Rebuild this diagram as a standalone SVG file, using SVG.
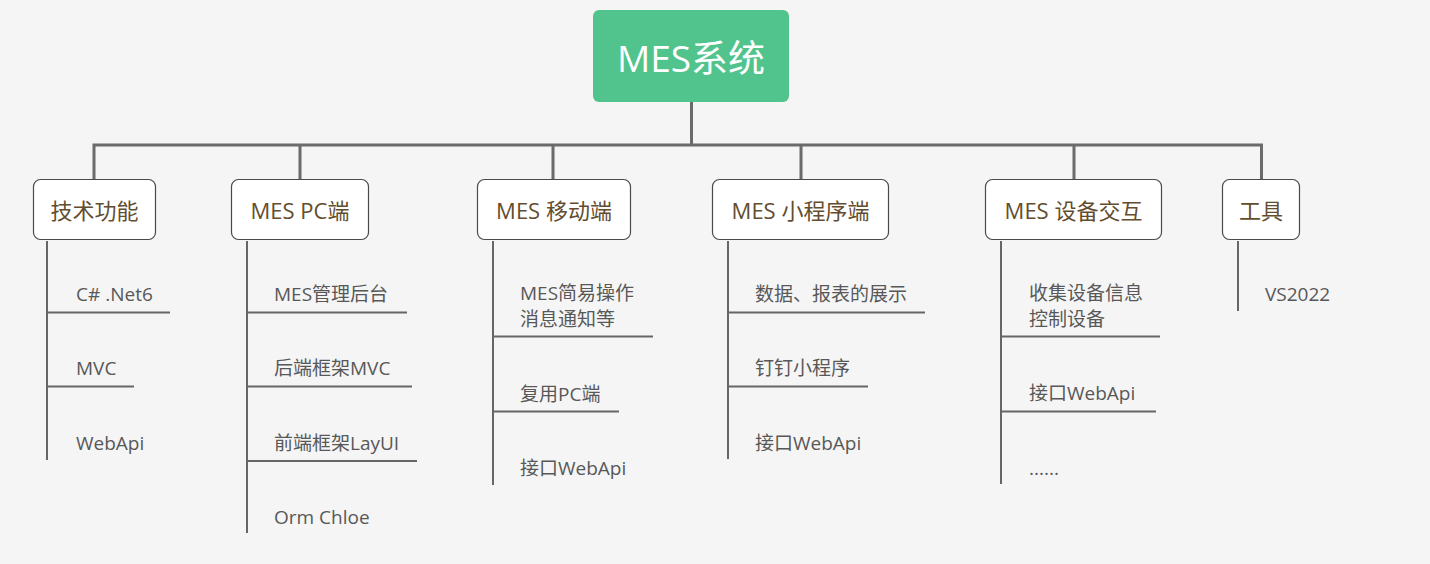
<svg xmlns="http://www.w3.org/2000/svg" width="1430" height="564" viewBox="0 0 1430 564">
<style>
.bg{fill:#f5f5f5}
.root{fill:#50c48c}
.rt{font-family:"Open Sans","Noto Sans CJK SC",sans-serif;font-size:37px;fill:#ffffff;text-anchor:middle}
.box{fill:#ffffff;stroke:#4a4a4a;stroke-width:1.2}
.bt{font-family:"Open Sans","Noto Sans CJK SC",sans-serif;font-size:22px;fill:#634d2e;text-anchor:middle}
.lt{font-family:"Open Sans","Noto Sans CJK SC",sans-serif;font-size:19px;fill:#585858}
.main{fill:none;stroke:#6b6b6b;stroke-width:3}
.sub{fill:none;stroke:#666666;stroke-width:2}
</style>
<rect class="bg" x="0" y="0" width="1430" height="564"/>
<g id="connectors">
<path class="main" d="M691.5 102V145M94 179V145H1261.5V179M300 145V179M553 145V179M801 145V179M1074 145V179"/>
<path class="sub" d="M47 241V460M47 312.5H170M47 386.5H134"/>
<path class="sub" d="M247 241V533M247 312.5H407M247 386.5H412M247 461H417"/>
<path class="sub" d="M493 241V485M493 336.5H653M493 411.5H619"/>
<path class="sub" d="M728 241V459M728 312.5H925M728 386.5H868"/>
<path class="sub" d="M1001 241V484M1001 336.5H1160M1001 411.5H1156"/>
<path class="sub" d="M1238 241V311"/>
</g>
<g id="root">
<rect class="root" x="593" y="10" width="196" height="92" rx="6"/>
<text class="rt" x="691" y="72">MES系统</text>
</g>
<g id="n-tech">
<rect class="box" x="33.5" y="179.5" width="122" height="60" rx="7"/>
<text class="bt" x="94.5" y="219">技术功能</text>
<text class="lt" x="76" y="301">C# .Net6</text>
<text class="lt" x="76" y="375">MVC</text>
<text class="lt" x="76" y="450">WebApi</text>
</g>
<g id="n-pc">
<rect class="box" x="231.5" y="179.5" width="137" height="60" rx="7"/>
<text class="bt" x="300" y="219">MES PC端</text>
<text class="lt" x="274" y="301">MES管理后台</text>
<text class="lt" x="274" y="375">后端框架MVC</text>
<text class="lt" x="274" y="450">前端框架LayUI</text>
<text class="lt" x="274" y="524">Orm Chloe</text>
</g>
<g id="n-mobile">
<rect class="box" x="477.5" y="179.5" width="153" height="60" rx="7"/>
<text class="bt" x="554" y="219">MES 移动端</text>
<text class="lt" x="520" y="300">MES简易操作</text>
<text class="lt" x="520" y="326">消息通知等</text>
<text class="lt" x="520" y="401">复用PC端</text>
<text class="lt" x="520" y="475">接口WebApi</text>
</g>
<g id="n-mini">
<rect class="box" x="712.5" y="179.5" width="176" height="60" rx="7"/>
<text class="bt" x="800.5" y="219">MES 小程序端</text>
<text class="lt" x="755" y="301">数据、报表的展示</text>
<text class="lt" x="755" y="375">钉钉小程序</text>
<text class="lt" x="755" y="450">接口WebApi</text>
</g>
<g id="n-device">
<rect class="box" x="985.5" y="179.5" width="176" height="60" rx="7"/>
<text class="bt" x="1073.5" y="219">MES 设备交互</text>
<text class="lt" x="1029" y="300">收集设备信息</text>
<text class="lt" x="1029" y="326">控制设备</text>
<text class="lt" x="1029" y="400">接口WebApi</text>
<text class="lt" x="1029" y="475">......</text>
</g>
<g id="n-tools">
<rect class="box" x="1222.5" y="179.5" width="77" height="60" rx="7"/>
<text class="bt" x="1261" y="219">工具</text>
<text class="lt" x="1265" y="301">VS2022</text>
</g>
</svg>
